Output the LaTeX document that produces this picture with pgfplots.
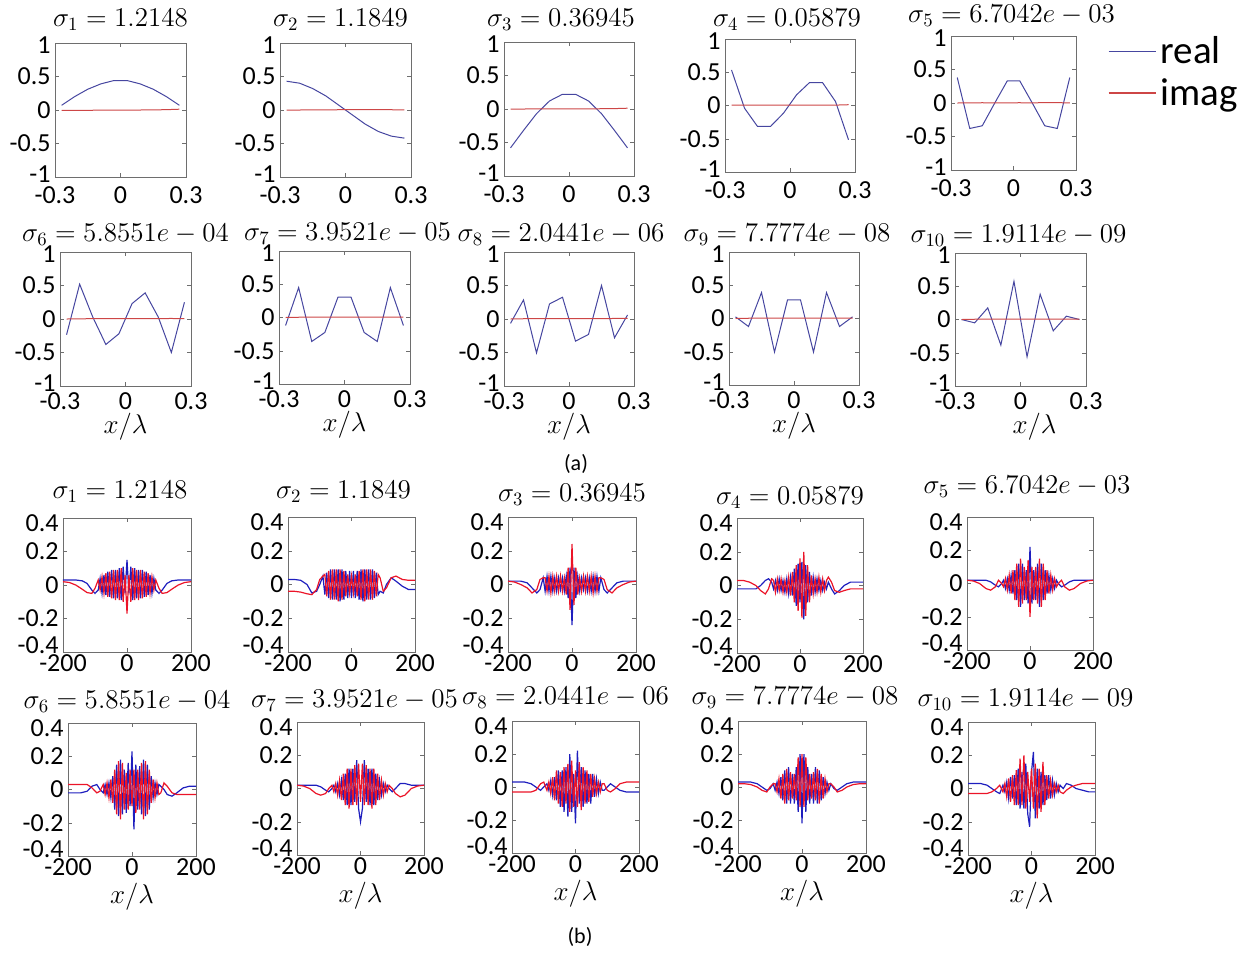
\documentclass[border=0pt]{standalone}
\usepackage[no-math]{fontspec}
\setmainfont{Carlito}
\usepackage{graphicx}
\usepackage{pgfplots}
\usepackage{pgfplotstable}
\pgfplotsset{compat=1.18}

\definecolor{axgray}{RGB}{110,110,110}
\definecolor{tblue}{RGB}{70,70,160}
\definecolor{tred}{RGB}{205,70,70}
\definecolor{bblue}{RGB}{30,30,190}
\definecolor{bred}{RGB}{235,20,40}

\newcommand{\ms}[1]{\scalebox{0.94}{#1}}

% ---------- top panels (a): x/lambda, real, imag ----------
\pgfplotstableread{
x re im
-0.27 0.07 -0.005
-0.21 0.20 -0.005
-0.15 0.31 -0.004
-0.09 0.39 -0.003
-0.03 0.44 -0.002
0.03 0.44 -0.001
0.09 0.39 0.000
0.15 0.31 0.002
0.21 0.20 0.005
0.27 0.07 0.012
}\TA
\pgfplotstableread{
x re im
-0.27 0.43 0.0
-0.21 0.40 0.0
-0.15 0.32 0.002
-0.09 0.21 0.003
-0.03 0.07 0.004
0.03 -0.07 0.005
0.09 -0.21 0.006
0.15 -0.32 0.006
0.21 -0.39 0.004
0.27 -0.42 0.002
}\TB
\pgfplotstableread{
x re im
-0.27 -0.58 0.000
-0.21 -0.32 0.000
-0.15 -0.07 0.001
-0.09 0.12 0.002
-0.03 0.22 0.002
0.03 0.22 0.002
0.09 0.12 0.003
0.15 -0.07 0.004
0.21 -0.32 0.006
0.27 -0.58 0.012
}\TC
\pgfplotstableread{
x re im
-0.27 0.535 0.005
-0.21 -0.04 0.006
-0.15 -0.315 0.006
-0.09 -0.315 0.006
-0.03 -0.115 0.005
0.03 0.16 0.004
0.09 0.345 0.004
0.15 0.345 0.004
0.21 0.06 0.006
0.27 -0.515 0.012
}\TD
\pgfplotstableread{
x re im
-0.27 0.38 0.000
-0.21 -0.38 0.002
-0.15 -0.34 0.004
-0.09 0.0 0.002
-0.03 0.33 0.003
0.03 0.33 0.004
0.09 0.0 0.002
0.15 -0.34 0.006
0.21 -0.38 0.005
0.27 0.38 0.002
}\TE
\pgfplotstableread{
x re im
-0.27 -0.235 0.000
-0.21 0.52 0.002
-0.15 0.03 0.006
-0.09 -0.38 0.006
-0.03 -0.22 0.005
0.03 0.23 0.004
0.09 0.39 0.004
0.15 0.03 0.006
0.21 -0.50 0.008
0.27 0.25 0.004
}\TF
\pgfplotstableread{
x re im
-0.27 -0.12 0.0
-0.21 0.45 0.004
-0.15 -0.36 0.006
-0.09 -0.225 0.006
-0.03 0.305 0.005
0.03 0.305 0.004
0.09 -0.225 0.004
0.15 -0.36 0.006
0.21 0.45 0.006
0.27 -0.12 0.004
}\TG
\pgfplotstableread{
x re im
-0.27 -0.065 0.000
-0.21 0.285 0.004
-0.15 -0.505 0.006
-0.09 0.225 0.006
-0.03 0.325 0.005
0.03 -0.33 0.004
0.09 -0.23 0.004
0.15 0.50 0.006
0.21 -0.28 0.008
0.27 0.06 0.010
}\TH
\pgfplotstableread{
x re im
-0.27 0.025 0.000
-0.21 -0.12 0.004
-0.15 0.39 0.006
-0.09 -0.505 0.006
-0.03 0.28 0.005
0.03 0.28 0.004
0.09 -0.505 0.004
0.15 0.39 0.004
0.21 -0.12 0.004
0.27 0.025 0.006
}\TI
\pgfplotstableread{
x re im
-0.27 0.0 0.000
-0.21 -0.05 0.004
-0.15 0.175 0.006
-0.09 -0.385 0.006
-0.03 0.575 0.005
0.03 -0.56 0.004
0.09 0.38 0.004
0.15 -0.17 0.006
0.21 0.05 0.006
0.27 0.0 0.006
}\TJ

% ---------- bottom panels (b) ----------
\pgfplotstableread{
x re im
-200 0.03 0.02
-180 0.03 0.015
-160 0.03 0.0
-140 0.025 -0.025
-125 0.01 -0.045
-110 -0.03 -0.05
-100 -0.05 -0.02
-90 -0.03 0.03
-84 0.04 -0.03
-78 -0.05 0.05
-72 0.06 -0.05
-66 -0.06 0.07
-60 0.08 -0.07
-54 -0.07 0.08
-48 0.09 -0.08
-42 -0.08 0.09
-36 0.09 -0.09
-30 -0.08 0.09
-24 0.10 -0.09
-18 -0.09 0.10
-12 0.11 -0.10
-6 -0.05 0.06
0 0.15 -0.17
6 -0.05 0.06
12 0.11 -0.10
18 -0.09 0.10
24 0.10 -0.09
30 -0.08 0.09
36 0.09 -0.09
42 -0.08 0.09
48 0.09 -0.08
54 -0.07 0.08
60 0.08 -0.07
66 -0.06 0.07
72 0.06 -0.05
78 -0.05 0.05
84 0.04 -0.03
90 -0.03 0.03
100 -0.05 -0.02
110 -0.03 -0.05
125 0.01 -0.045
140 0.025 -0.025
160 0.03 0.0
180 0.03 0.015
200 0.03 0.02
}\BA
\pgfplotstableread{
x re im
-200 0.03 -0.04
-180 0.03 -0.04
-160 0.025 -0.045
-140 0.0 -0.055
-125 -0.05 -0.06
-110 -0.04 -0.03
-100 0.0 0.03
-90 0.05 0.05
-84 -0.06 0.06
-78 0.07 -0.07
-72 -0.08 0.08
-66 0.09 -0.09
-60 -0.09 0.09
-54 0.09 -0.09
-48 -0.09 0.09
-42 0.09 -0.10
-36 -0.10 0.09
-30 0.09 -0.09
-24 -0.09 0.08
-18 0.08 -0.07
-12 -0.08 0.06
-6 0.08 -0.05
0 -0.08 0.05
6 0.08 -0.05
12 -0.08 0.06
18 0.08 -0.07
24 -0.09 0.08
30 0.09 -0.09
36 -0.10 0.09
42 0.09 -0.10
48 -0.09 0.09
54 0.09 -0.09
60 -0.09 0.09
66 0.09 -0.09
72 -0.08 0.08
78 0.07 -0.07
84 -0.06 0.06
90 -0.04 0.04
100 -0.05 -0.04
110 0.0 -0.02
125 0.04 0.04
140 0.02 0.05
160 -0.01 0.03
180 -0.03 0.025
200 -0.03 0.025
}\BB
\pgfplotstableread{
x re im
-200 0.02 0.02
-180 0.02 0.015
-160 0.02 0.0
-140 0.01 -0.02
-125 -0.02 -0.05
-110 -0.05 -0.03
-100 -0.03 0.03
-90 0.04 0.04
-84 -0.04 0.04
-78 0.05 -0.04
-72 -0.04 0.05
-66 0.05 -0.05
-60 -0.04 0.05
-54 0.04 -0.04
-48 -0.04 0.05
-42 0.04 -0.04
-36 -0.03 0.05
-30 0.04 -0.04
-24 -0.04 0.04
-18 0.05 -0.06
-12 -0.08 0.10
-6 0.10 -0.15
0 -0.24 0.24
6 0.10 -0.12
12 -0.08 0.10
18 0.05 -0.06
24 -0.04 0.04
30 0.04 -0.04
36 -0.03 0.05
42 0.04 -0.04
48 -0.04 0.05
54 0.04 -0.04
60 -0.04 0.05
66 0.05 -0.05
72 -0.04 0.05
78 0.05 -0.04
84 -0.04 0.04
90 0.04 0.04
100 -0.03 0.03
110 -0.05 -0.03
125 -0.02 -0.05
140 0.01 -0.02
160 0.02 0.0
180 0.02 0.015
200 0.02 0.02
}\BC
\pgfplotstableread{
x re im
-200 -0.02 0.03
-180 -0.02 0.03
-160 -0.02 0.02
-140 -0.02 0.0
-125 0.0 -0.03
-110 0.03 -0.05
-100 0.04 -0.02
-90 0.02 0.04
-84 -0.02 0.03
-78 0.03 -0.04
-72 -0.03 0.04
-66 0.04 -0.03
-60 -0.03 0.04
-54 0.03 -0.04
-48 -0.04 0.03
-42 0.04 -0.04
-36 -0.05 0.05
-30 0.05 -0.06
-24 -0.06 0.08
-18 0.10 -0.10
-12 -0.12 0.12
-6 0.13 -0.15
0 -0.10 0.16
6 0.14 -0.19
12 -0.20 0.20
18 0.12 -0.18
24 -0.10 0.12
30 0.08 -0.10
36 -0.06 0.06
42 0.05 -0.05
48 -0.04 0.04
54 0.04 -0.04
60 -0.03 0.05
66 0.03 -0.04
72 -0.03 0.04
78 0.02 -0.03
84 -0.02 0.03
90 0.02 0.05
100 -0.02 0.02
110 -0.05 -0.03
125 -0.03 -0.04
140 0.0 -0.03
160 0.02 -0.02
180 0.02 -0.02
200 0.02 -0.02
}\BD
\pgfplotstableread{
x re im
-200 0.02 0.02
-180 0.02 0.015
-160 0.02 0.0
-140 0.02 -0.03
-125 0.01 -0.04
-110 -0.01 -0.02
-100 -0.02 0.02
-90 0.0 0.0
-84 0.02 -0.02
-78 -0.03 0.03
-72 0.03 -0.04
-66 -0.04 0.05
-60 0.05 -0.06
-54 -0.06 0.08
-48 0.08 -0.10
-42 -0.10 0.12
-36 0.12 -0.14
-30 -0.14 0.15
-24 0.12 -0.12
-18 -0.10 0.10
-12 0.08 -0.10
-6 -0.12 0.14
0 0.22 -0.20
6 -0.12 0.10
12 0.08 -0.10
18 -0.10 0.10
24 0.12 -0.12
30 -0.14 0.15
36 0.12 -0.14
42 -0.10 0.12
48 0.08 -0.10
54 -0.06 0.08
60 0.05 -0.06
66 -0.04 0.05
72 0.03 -0.04
78 -0.03 0.03
84 0.02 -0.02
90 0.0 0.0
100 -0.02 0.02
110 -0.01 -0.02
125 0.01 -0.04
140 0.02 -0.03
160 0.02 0.0
180 0.02 0.015
200 0.02 0.02
}\BE
\pgfplotstableread{
x re im
-200 -0.02 0.03
-180 -0.02 0.03
-160 -0.02 0.03
-140 -0.01 0.03
-125 0.02 0.01
-110 0.03 -0.02
-100 0.0 -0.01
-90 -0.02 0.03
-84 0.03 -0.03
-78 -0.03 0.04
-72 0.04 -0.05
-66 -0.05 0.06
-60 0.08 -0.08
-54 -0.12 0.12
-48 0.15 -0.15
-42 -0.16 0.17
-36 0.18 -0.18
-30 -0.15 0.16
-24 0.12 -0.12
-18 -0.14 0.10
-12 0.16 -0.12
-6 -0.10 0.12
0 0.23 -0.10
6 -0.24 0.12
12 0.15 -0.14
18 -0.12 0.12
24 0.14 -0.12
30 -0.15 0.16
36 0.18 -0.18
42 -0.16 0.17
48 0.15 -0.15
54 -0.12 0.12
60 0.08 -0.08
66 -0.05 0.06
72 0.04 -0.05
78 -0.03 0.04
84 0.03 -0.03
90 0.02 -0.02
100 0.0 0.04
110 -0.03 0.02
125 -0.04 -0.02
140 -0.02 -0.03
160 0.01 -0.03
180 0.02 -0.03
200 0.02 -0.03
}\BF
\pgfplotstableread{
x re im
-200 0.02 0.02
-180 0.02 0.015
-160 0.02 0.0
-140 0.02 -0.03
-125 0.01 -0.04
-110 -0.01 -0.03
-100 -0.02 0.0
-90 0.0 0.02
-84 0.02 -0.02
-78 -0.02 0.03
-72 0.03 -0.04
-66 -0.04 0.05
-60 0.05 -0.07
-54 -0.07 0.09
-48 0.09 -0.10
-42 -0.10 0.12
-36 0.12 -0.12
-30 -0.10 0.12
-24 0.12 -0.10
-18 -0.08 0.14
-12 0.17 -0.10
-6 -0.12 0.15
0 -0.20 -0.08
6 -0.12 0.15
12 0.17 -0.10
18 -0.08 0.14
24 0.12 -0.10
30 -0.10 0.12
36 0.12 -0.12
42 -0.10 0.12
48 0.09 -0.10
54 -0.07 0.09
60 0.05 -0.07
66 -0.04 0.05
72 0.03 -0.04
78 -0.02 0.03
84 0.02 -0.02
90 0.0 0.02
100 -0.02 0.0
110 0.0 -0.03
125 0.03 -0.05
140 0.03 -0.04
160 0.02 0.0
180 0.02 0.015
200 0.02 0.02
}\BG
\pgfplotstableread{
x re im
-200 0.03 -0.03
-180 0.03 -0.03
-160 0.03 -0.03
-140 0.02 -0.03
-125 0.0 -0.02
-110 -0.02 0.02
-100 0.0 0.03
-90 0.02 -0.02
-84 -0.02 0.03
-78 0.04 -0.04
-72 -0.05 0.06
-66 0.06 -0.08
-60 -0.08 0.10
-54 0.10 -0.10
-48 -0.12 0.09
-42 0.10 -0.12
-36 -0.15 0.12
-30 0.12 -0.10
-24 -0.18 0.14
-18 0.20 -0.15
-12 -0.15 0.16
-6 0.08 -0.12
0 -0.22 0.10
6 0.22 -0.12
12 -0.10 0.15
18 0.12 -0.14
24 -0.12 0.12
30 0.10 -0.10
36 -0.10 0.10
42 0.08 -0.09
48 -0.10 0.08
54 0.08 -0.06
60 -0.06 0.05
66 0.05 -0.04
72 -0.04 0.03
78 0.03 -0.03
84 -0.02 0.02
90 -0.02 0.02
100 0.0 -0.02
110 0.02 -0.03
125 0.0 -0.01
140 -0.02 0.02
160 -0.03 0.03
180 -0.03 0.03
200 -0.03 0.03
}\BH
\pgfplotstableread{
x re im
-200 0.03 0.02
-180 0.03 0.02
-160 0.03 0.015
-140 0.02 0.0
-125 0.0 -0.02
-110 -0.02 -0.03
-100 -0.01 0.0
-90 0.02 0.02
-84 -0.02 0.02
-78 0.03 -0.03
-72 -0.04 0.05
-66 0.06 -0.07
-60 -0.08 0.08
-54 0.10 -0.10
-48 -0.10 0.11
-42 0.12 -0.08
-36 -0.10 0.09
-30 0.08 -0.07
-24 -0.10 0.08
-18 0.12 -0.08
-12 -0.15 0.18
-6 0.20 -0.12
0 -0.22 0.20
6 0.20 -0.12
12 -0.15 0.18
18 0.12 -0.08
24 -0.10 0.08
30 0.08 -0.07
36 -0.10 0.09
42 0.12 -0.08
48 -0.10 0.11
54 0.10 -0.10
60 -0.08 0.08
66 0.06 -0.07
72 -0.04 0.05
78 0.03 -0.03
84 -0.02 0.02
90 0.02 0.02
100 -0.01 0.0
110 -0.02 -0.03
125 0.0 -0.02
140 0.02 0.0
160 0.03 0.015
180 0.03 0.02
200 0.03 0.02
}\BI
\pgfplotstableread{
x re im
-200 0.03 -0.03
-180 0.03 -0.03
-160 0.03 -0.03
-140 0.02 -0.03
-125 0.0 -0.02
-110 -0.02 0.0
-100 -0.03 0.02
-90 0.02 -0.02
-84 -0.02 0.03
-78 0.04 -0.05
-72 -0.06 0.06
-66 0.07 -0.08
-60 -0.06 0.08
-54 0.08 -0.10
-48 -0.10 0.11
-42 0.12 -0.10
-36 -0.12 0.18
-30 0.10 -0.10
-24 -0.12 0.20
-18 0.15 -0.12
-12 -0.15 0.10
-6 -0.23 -0.08
0 0.10 0.12
6 0.22 -0.12
12 -0.18 0.15
18 0.12 -0.18
24 -0.12 0.12
30 0.10 -0.14
36 -0.10 0.16
42 0.08 -0.10
48 -0.07 0.08
54 0.08 -0.06
60 -0.06 0.05
66 0.05 -0.04
72 -0.04 0.03
78 0.03 -0.02
84 -0.02 0.02
90 0.02 -0.02
100 0.0 -0.03
110 0.03 -0.01
125 0.02 0.01
140 0.0 0.02
160 -0.01 0.03
180 -0.02 0.03
200 -0.02 0.03
}\BJ

\pgfplotsset{
  base/.style={scale only axis, axis line style={axgray}, tick style={axgray},
    tick align=inside, major tick length=2pt,
    ticklabel style={font=\fontsize{13}{13}\selectfont},
    yticklabel style={inner xsep=2pt},
    extra y tick style={major tick length=0pt},
    title style={font=\fontsize{14.4}{16}\selectfont, at={(0.5,1)}, anchor=center, yshift=-6pt, inner sep=1pt},
    xlabel style={font=\fontsize{14.4}{16}\selectfont, at={(0.5,0)}, anchor=center, yshift=-20.5pt, inner sep=0pt},
    every axis plot/.append style={line width=0.5pt}},
  top/.style={base, xmin=-0.3, xmax=0.3, ymin=-1, ymax=1,
    xtick={-0.3,0,0.3}, xticklabels={-0.3,0,0.3},
    ytick={-0.5,0,0.5}, yticklabels={-0.5,0,0.5},
    extra y ticks={-0.95,0.97}, extra y tick labels={-1,1}},
  rowone/.style={top, xticklabel style={yshift=-1.5pt}},
  bot/.style={base, xmin=-200, xmax=200, ymin=-0.4, ymax=0.4,
    xtick={-200,0,200}, xticklabels={-200,0,200},
    ytick={-0.2,0,0.2}, yticklabels={-0.2,0,0.2},
    extra y ticks={-0.36,0.37}, extra y tick labels={-0.4,0.4},
    xticklabel style={yshift=2pt},
    every axis plot/.append style={line width=0.6pt}},
  pos/.style n args={4}{at={(#1pt,#2pt)}, anchor=north west, width=#3pt, height=#4pt},
  ttl/.style n args={3}{title={\ms{#1}}, title style={xshift=#2pt, yshift=#3pt}},
  xl/.style={xlabel={\ms{$x/\lambda$}}},
}

\newcommand{\topplots}[1]{%
  \addplot[tblue] table[x=x,y=re]{#1};
  \addplot[tred] table[x=x,y=im]{#1};}
\newcommand{\botplots}[1]{%
  \addplot[bblue] table[x=x,y=re]{#1};
  \addplot[bred] table[x=x,y=im]{#1};}

\begin{document}
\begin{tikzpicture}
\useasboundingbox (0pt,0pt) rectangle (628.5pt,-477.5pt);

% ----- row 1 -----
\begin{axis}[rowone, pos={27.5}{-21.5}{65.5}{67}, ttl={$\sigma_1 = 1.2148$}{0}{11.5}]
\topplots{\TA}
\end{axis}
\begin{axis}[rowone, pos={140}{-21.5}{65.5}{67}, ttl={$\sigma_2 = 1.1849$}{-2.5}{11.5}]
\topplots{\TB}
\end{axis}
\begin{axis}[rowone, pos={252}{-21}{65}{67}, ttl={$\sigma_3 = 0.36945$}{-4}{11}]
\topplots{\TC}
\end{axis}
\begin{axis}[rowone, pos={362.5}{-19.5}{65}{66.5}, ttl={$\sigma_4 = 0.05879$}{-1.5}{9.5}]
\topplots{\TD}
\end{axis}
\begin{axis}[rowone, pos={475.5}{-18}{62.5}{67}, ttl={$\sigma_5 = 6.7042e - 03$}{-1}{10},
  legend style={at={(1.25,1.03)}, anchor=north west, draw=none, fill=none,
    font=\fontsize{19.5}{21}\selectfont, row sep=2pt, inner sep=0pt},
  legend cell align=left]
\addplot[color=tblue, line width=0.5pt, forget plot] table[x=x,y=re]{\TE};
\addplot[color=tred, line width=0.5pt, forget plot] table[x=x,y=im]{\TE};
\addlegendimage{legend image code/.code={\draw[tblue, line width=0.9pt] (0pt,0pt) -- (23.5pt,0pt);}}
\addlegendentry{real}
\addlegendimage{legend image code/.code={\draw[tred, line width=0.9pt] (0pt,0pt) -- (23.5pt,0pt);}}
\addlegendentry{imag}
\end{axis}

% ----- row 2 -----
\begin{axis}[top, pos={30}{-126}{65.5}{67}, ttl={$\sigma_6 = 5.8551e - 04$}{0}{8.5}, xl]
\topplots{\TF}
\end{axis}
\begin{axis}[top, pos={139.5}{-125.5}{65.5}{66.5}, ttl={$\sigma_7 = 3.9521e - 05$}{1.5}{8.5}, xl]
\topplots{\TG}
\end{axis}
\begin{axis}[top, pos={252}{-126}{65}{67}, ttl={$\sigma_8 = 2.0441e - 06$}{-4}{8.5}, xl]
\topplots{\TH}
\end{axis}
\begin{axis}[top, pos={364.5}{-126}{65}{66.5}, ttl={$\sigma_9 = 7.7774e - 08$}{-3.5}{8.5}, xl]
\topplots{\TI}
\end{axis}
\begin{axis}[top, pos={477.5}{-126.5}{65.5}{66.5}, ttl={$\sigma_{10} = 1.9114e - 09$}{-1}{8.5}, xl, xlabel style={xshift=7pt}]
\topplots{\TJ}
\end{axis}

\node[font=\fontsize{11}{13}\selectfont] at (288pt,-232pt) {(a)};

% ----- row 3 -----
\begin{axis}[bot, pos={31.5}{-259}{64}{67}, ttl={$\sigma_1 = 1.2148$}{-3.5}{13}]
\botplots{\BA}
\end{axis}
\begin{axis}[bot, pos={144}{-258.5}{63.5}{67.5}, ttl={$\sigma_2 = 1.1849$}{-4}{12.5}]
\botplots{\BB}
\end{axis}
\begin{axis}[bot, pos={254}{-258.5}{64}{67.5}, ttl={$\sigma_3 = 0.36945$}{0}{11}]
\botplots{\BC}
\end{axis}
\begin{axis}[bot, pos={368.5}{-259}{63}{67.5}, ttl={$\sigma_4 = 0.05879$}{-5}{10}]
\botplots{\BD}
\end{axis}
\begin{axis}[bot, pos={483.5}{-258.5}{63}{66.5}, ttl={$\sigma_5 = 6.7042e - 03$}{-1.5}{15}]
\botplots{\BE}
\end{axis}

% ----- row 4 -----
\begin{axis}[bot, pos={34}{-361.5}{64}{66.5}, ttl={$\sigma_6 = 5.8551e - 04$}{-2.5}{10.5}, xl]
\botplots{\BF}
\end{axis}
\begin{axis}[bot, pos={148.5}{-361}{63.5}{66.5}, ttl={$\sigma_7 = 3.9521e - 05$}{-3}{10.5}, xl]
\botplots{\BG}
\end{axis}
\begin{axis}[bot, pos={256}{-360.5}{63.5}{66}, ttl={$\sigma_8 = 2.0441e - 06$}{-5}{11.5}, xl]
\botplots{\BH}
\end{axis}
\begin{axis}[bot, pos={369}{-360.5}{64}{66}, ttl={$\sigma_9 = 7.7774e - 08$}{-3.5}{11.5}, xl]
\botplots{\BI}
\end{axis}
\begin{axis}[bot, pos={484}{-361}{63.5}{66.5}, ttl={$\sigma_{10} = 1.9114e - 09$}{-3}{11}, xl]
\botplots{\BJ}
\end{axis}

\node[font=\fontsize{11}{13}\selectfont] at (290pt,-468.5pt) {(b)};
\end{tikzpicture}
\end{document}
